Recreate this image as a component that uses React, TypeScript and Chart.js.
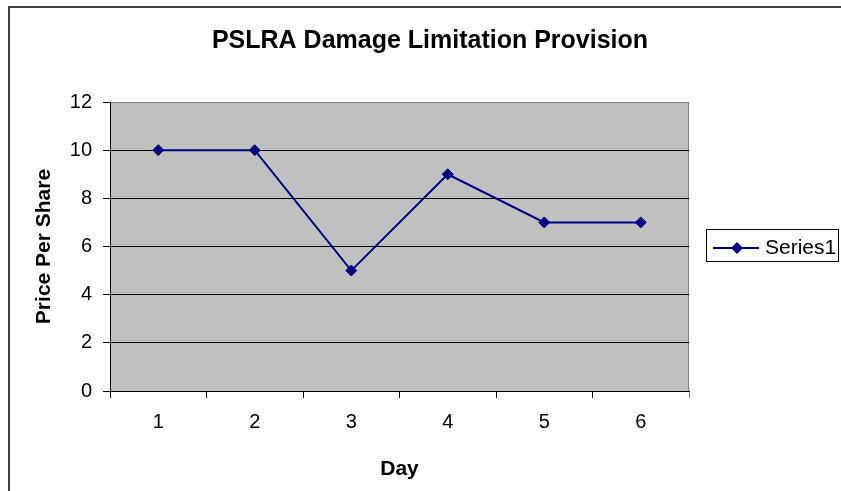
import React, { useEffect, useRef } from 'react';
import { Chart, registerables } from 'chart.js';

Chart.register(...registerables);

const days: string[] = ['1', '2', '3', '4', '5', '6'];
const prices: number[] = [10, 10, 5, 9, 7, 7];
const seriesName = 'Series1';
const chartTitle = 'PSLRA Damage Limitation Provision';
const xAxisTitle = 'Day';
const yAxisTitle = 'Price Per Share';
const yMin = 0;
const yMax = 12;
const yStep = 2;

const FONT = '"Liberation Sans", Arial, Helvetica, sans-serif';
const NAVY = '#000080';

const decorPlugin = {
  id: 'excelDecor',
  beforeDraw(chart: any) {
    const { ctx, chartArea: a } = chart;
    ctx.save();
    ctx.fillStyle = '#ffffff';
    ctx.fillRect(0, 0, chart.width, chart.height);
    // outer chart border
    ctx.strokeStyle = '#404040';
    ctx.lineWidth = 2;
    ctx.strokeRect(9, 7, 900, 600);
    // plot area
    ctx.fillStyle = '#C0C0C0';
    ctx.fillRect(a.left, a.top, a.right - a.left, a.bottom - a.top);
    ctx.strokeStyle = '#808080';
    ctx.lineWidth = 1;
    ctx.beginPath();
    const rx = Math.round(a.right) - 0.5;
    ctx.moveTo(rx, a.top);
    ctx.lineTo(rx, a.bottom);
    ctx.stroke();
    // title
    ctx.fillStyle = '#000';
    ctx.font = `bold 25px ${FONT}`;
    ctx.textAlign = 'center';
    ctx.textBaseline = 'alphabetic';
    ctx.fillText(chartTitle, 430, 47.5);
    ctx.restore();
  },
  afterDraw(chart: any) {
    const { ctx } = chart;
    ctx.save();
    // legend box
    ctx.strokeStyle = '#000';
    ctx.lineWidth = 1;
    ctx.strokeRect(706.5, 229.5, 132, 32);
    // legend line
    ctx.strokeStyle = NAVY;
    ctx.lineWidth = 2;
    ctx.beginPath();
    ctx.moveTo(713, 248);
    ctx.lineTo(759, 248);
    ctx.stroke();
    // legend diamond
    const cx = 737, cy = 248, r = 6;
    ctx.fillStyle = NAVY;
    ctx.beginPath();
    ctx.moveTo(cx - r, cy);
    ctx.lineTo(cx, cy - r);
    ctx.lineTo(cx + r, cy);
    ctx.lineTo(cx, cy + r);
    ctx.closePath();
    ctx.fill();
    // legend text
    ctx.fillStyle = '#000';
    ctx.font = `21px ${FONT}`;
    ctx.textAlign = 'left';
    ctx.textBaseline = 'alphabetic';
    ctx.fillText(seriesName, 765, 253.5);
    ctx.restore();
  },
};

export default function App() {
  const canvasRef = useRef<HTMLCanvasElement | null>(null);

  useEffect(() => {
    if (!canvasRef.current) return;
    const chart = new Chart(canvasRef.current, {
      type: 'line',
      data: {
        labels: days,
        datasets: [
          {
            label: seriesName,
            data: prices,
            borderColor: NAVY,
            backgroundColor: NAVY,
            borderWidth: 2,
            pointStyle: 'rectRot',
            pointRadius: 5.5,
            pointBorderWidth: 1,
            pointBorderColor: NAVY,
            pointBackgroundColor: NAVY,
            tension: 0,
            fill: false,
          },
        ],
      },
      options: {
        responsive: false,
        animation: false,
        devicePixelRatio: 1,
        layout: {
          autoPadding: false,
          padding: { top: 102, right: 152, bottom: 0, left: 0 },
        },
        plugins: {
          legend: { display: false },
          title: { display: false },
          tooltip: { enabled: false },
        },
        scales: {
          x: {
            type: 'category',
            offset: true,
            ticks: {
              color: '#000',
              font: { family: FONT, size: 20 },
              padding: 12,
              maxRotation: 0,
              autoSkip: false,
            },
            grid: {
              offset: true,
              drawOnChartArea: false,
              drawTicks: true,
              tickLength: 7,
              lineWidth: 1,
              color: (c: any) => (c.type === 'scale' ? '#808080' : '#000'),
            },
            border: { display: true, color: '#000', width: 1 },
            title: {
              display: true,
              text: xAxisTitle,
              color: '#000',
              font: { family: FONT, size: 21, weight: 'bold' },
              padding: { top: 0, bottom: 9 },
            },
            afterFit: (s: any) => {
              s.height = 100;
            },
          },
          y: {
            min: yMin,
            max: yMax,
            ticks: {
              stepSize: yStep,
              color: '#000',
              font: { family: FONT, size: 20 },
              padding: 11,
            },
            grid: {
              drawTicks: true,
              tickLength: 7,
              lineWidth: 1,
              color: (c: any) => (c.tick && c.tick.value === yMax ? '#808080' : '#000'),
              tickColor: '#000',
            },
            border: { display: true, color: '#000', width: 1 },
            title: {
              display: true,
              text: yAxisTitle,
              color: '#000',
              font: { family: FONT, size: 21, weight: 'bold' },
              padding: { top: 32, bottom: 0 },
            },
            afterFit: (s: any) => {
              s.width = 110;
            },
          },
        },
      } as any,
      plugins: [decorPlugin],
    });
    return () => chart.destroy();
  }, []);

  return (
    <div style={{ position: 'fixed', left: 0, top: 0, width: 841, height: 491, background: '#fff' }}>
      <canvas ref={canvasRef} width={841} height={491} style={{ display: 'block' }} />
    </div>
  );
}
